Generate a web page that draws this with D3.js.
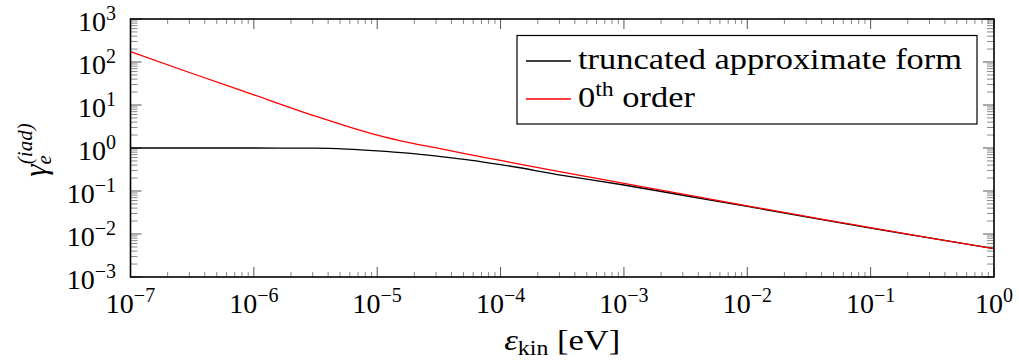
<!DOCTYPE html>
<html>
<head>
<meta charset="utf-8">
<script src="https://cdn.jsdelivr.net/npm/d3@7"></script>
<style>
  html, body { margin: 0; padding: 0; background: #fff; }
  svg { display: block; }
  text { font-family: "Liberation Serif", "DejaVu Serif", serif; fill: #000; }
</style>
</head>
<body>
<svg id="chart" width="1019" height="361"></svg>
<script>
// Kinetic energy samples (eV)
const energy = [1e-7, 10 ** -6.5, 1e-6, 10 ** -5.5, 10 ** -5.25, 1e-5, 10 ** -4.75, 10 ** -4.5,
                10 ** -4.25, 1e-4, 10 ** -3.5, 1e-3, 10 ** -2.5, 1e-2, 10 ** -1.5, 1e-1,
                10 ** -0.5, 1];
// Truncated approximate form
const gammaTruncated = [1.0, 1.0, 1.0, 0.989, 0.944, 0.861, 0.759, 0.638,
                        0.525, 0.412, 0.232, 0.138, 0.0776, 0.0437, 0.0243, 0.0137,
                        0.00794, 0.00457];
// 0th order
const gammaZeroth = [174, 54.0, 17.2, 5.50, 3.24, 2.0, 1.35, 0.977,
                     0.70, 0.513, 0.275, 0.150, 0.0822, 0.0452, 0.0251, 0.0140,
                     0.00794, 0.00457];

const xMajorExp = [-7, -6, -5, -4, -3, -2, -1, 0];
const yMajorExp = [-3, -2, -1, 0, 1, 2, 3];
const seriesNames = ["truncated approximate form", "0th order"];
const seriesColors = ["#000000", "#ff0000"];

const svg = d3.select("#chart");
const plotLeft = 130.5, plotRight = 994, plotTop = 19, plotBottom = 277;

const x = d3.scaleLog().domain([1e-7, 1]).range([plotLeft, plotRight]);
const y = d3.scaleLog().domain([1e-3, 1e3]).range([plotBottom, plotTop]);

// minor tick values (2..9 per decade)
const xMinor = [], yMinor = [];
for (let e = -7; e < 0; e++) for (let k = 2; k <= 9; k++) xMinor.push(k * 10 ** e);
for (let e = -3; e < 3; e++) for (let k = 2; k <= 9; k++) yMinor.push(k * 10 ** e);

const ticks = svg.append("g");
const minorStyle = { stroke: "#8a8a8a", w: 1 };
const majorStyle = { stroke: "#555", w: 1 };

function hTick(xv, len, st) {
  const px = x(xv);
  ticks.append("line").attr("x1", px).attr("x2", px).attr("y1", plotBottom).attr("y2", plotBottom - len)
    .attr("stroke", st.stroke).attr("stroke-width", st.w);
  ticks.append("line").attr("x1", px).attr("x2", px).attr("y1", plotTop).attr("y2", plotTop + len)
    .attr("stroke", st.stroke).attr("stroke-width", st.w);
}
function vTick(yv, len, st) {
  const py = y(yv);
  ticks.append("line").attr("y1", py).attr("y2", py).attr("x1", plotLeft).attr("x2", plotLeft + len)
    .attr("stroke", st.stroke).attr("stroke-width", st.w);
  ticks.append("line").attr("y1", py).attr("y2", py).attr("x1", plotRight).attr("x2", plotRight - len)
    .attr("stroke", st.stroke).attr("stroke-width", st.w);
}
xMinor.forEach(v => hTick(v, 5, minorStyle));
xMajorExp.forEach(e => hTick(10 ** e, 10, majorStyle));
yMinor.forEach(v => vTick(v, 7, minorStyle));
yMajorExp.forEach(e => vTick(10 ** e, 11, majorStyle));

// curves
const line = d3.line()
  .x(d => x(d[0]))
  .y(d => y(d[1]))
  .curve(d3.curveMonotoneX);

const plot = svg.append("g");
[gammaTruncated, gammaZeroth].forEach((vals, i) => {
  plot.append("path")
    .datum(energy.map((e, j) => [e, vals[j]]))
    .attr("d", line)
    .attr("fill", "none")
    .attr("stroke", seriesColors[i])
    .attr("stroke-width", 1.3)
    .attr("stroke-linejoin", "round");
});

// frame
svg.append("rect")
  .attr("x", plotLeft).attr("y", plotTop)
  .attr("width", plotRight - plotLeft).attr("height", plotBottom - plotTop)
  .attr("fill", "none").attr("stroke", "#000").attr("stroke-width", 1.6);

// tick labels as powers of ten
function powerLabel(g, exp) {
  g.append("tspan").text("10");
  g.append("tspan").attr("dy", -11).attr("font-size", 20)
    .text(exp < 0 ? "\u2212" + (-exp) : String(exp));
}
xMajorExp.forEach(e => {
  const t = svg.append("text")
    .attr("x", x(10 ** e)).attr("y", 313)
    .attr("text-anchor", "middle").attr("font-size", 28);
  powerLabel(t, e);
});
yMajorExp.forEach(e => {
  const t = svg.append("text")
    .attr("x", 116).attr("y", y(10 ** e) + 12)
    .attr("text-anchor", "end").attr("font-size", 28);
  powerLabel(t, e);
});

// x-axis title
const xt = svg.append("text")
  .attr("x", (plotLeft + plotRight) / 2).attr("y", 350)
  .attr("text-anchor", "middle").attr("font-size", 29)
  .attr("textLength", 116).attr("lengthAdjust", "spacingAndGlyphs");
xt.append("tspan").attr("font-style", "italic").text("\u03b5");
xt.append("tspan").attr("font-size", 20).attr("dy", 5).text("kin");
xt.append("tspan").attr("dy", -5).text(" [eV]");

// y-axis title
const yt = svg.append("text")
  .attr("transform", `translate(46, 150) rotate(-90)`)
  .attr("text-anchor", "middle").attr("font-size", 31);
yt.append("tspan").attr("font-style", "italic").text("\u03b3");
yt.append("tspan").attr("font-style", "italic").attr("font-size", 21).attr("dy", 5).text("e");
yt.append("tspan").attr("font-style", "italic").attr("font-size", 21)
  .attr("dx", -9).attr("dy", -19).text("(iad)");

// legend
const lg = svg.append("g");
lg.append("rect")
  .attr("x", 517).attr("y", 35.5).attr("width", 460).attr("height", 88.5)
  .attr("fill", "#fff").attr("stroke", "#000").attr("stroke-width", 1.2);
const rowsY = [61, 99];
const legendTextWidths = [384, 117];
seriesNames.forEach((name, i) => {
  lg.append("line")
    .attr("x1", 526).attr("x2", 571).attr("y1", rowsY[i]).attr("y2", rowsY[i])
    .attr("stroke", seriesColors[i]).attr("stroke-width", 1.3);
  const t = lg.append("text").attr("x", 578).attr("y", rowsY[i] + 8).attr("font-size", 29)
    .attr("textLength", legendTextWidths[i]).attr("lengthAdjust", "spacingAndGlyphs");
  if (i === 1) {
    t.append("tspan").text("0");
    t.append("tspan").attr("font-size", 20).attr("dy", -11).text("th");
    t.append("tspan").attr("dy", 11).text(" order");
  } else {
    t.text(name);
  }
});
</script>
</body>
</html>
